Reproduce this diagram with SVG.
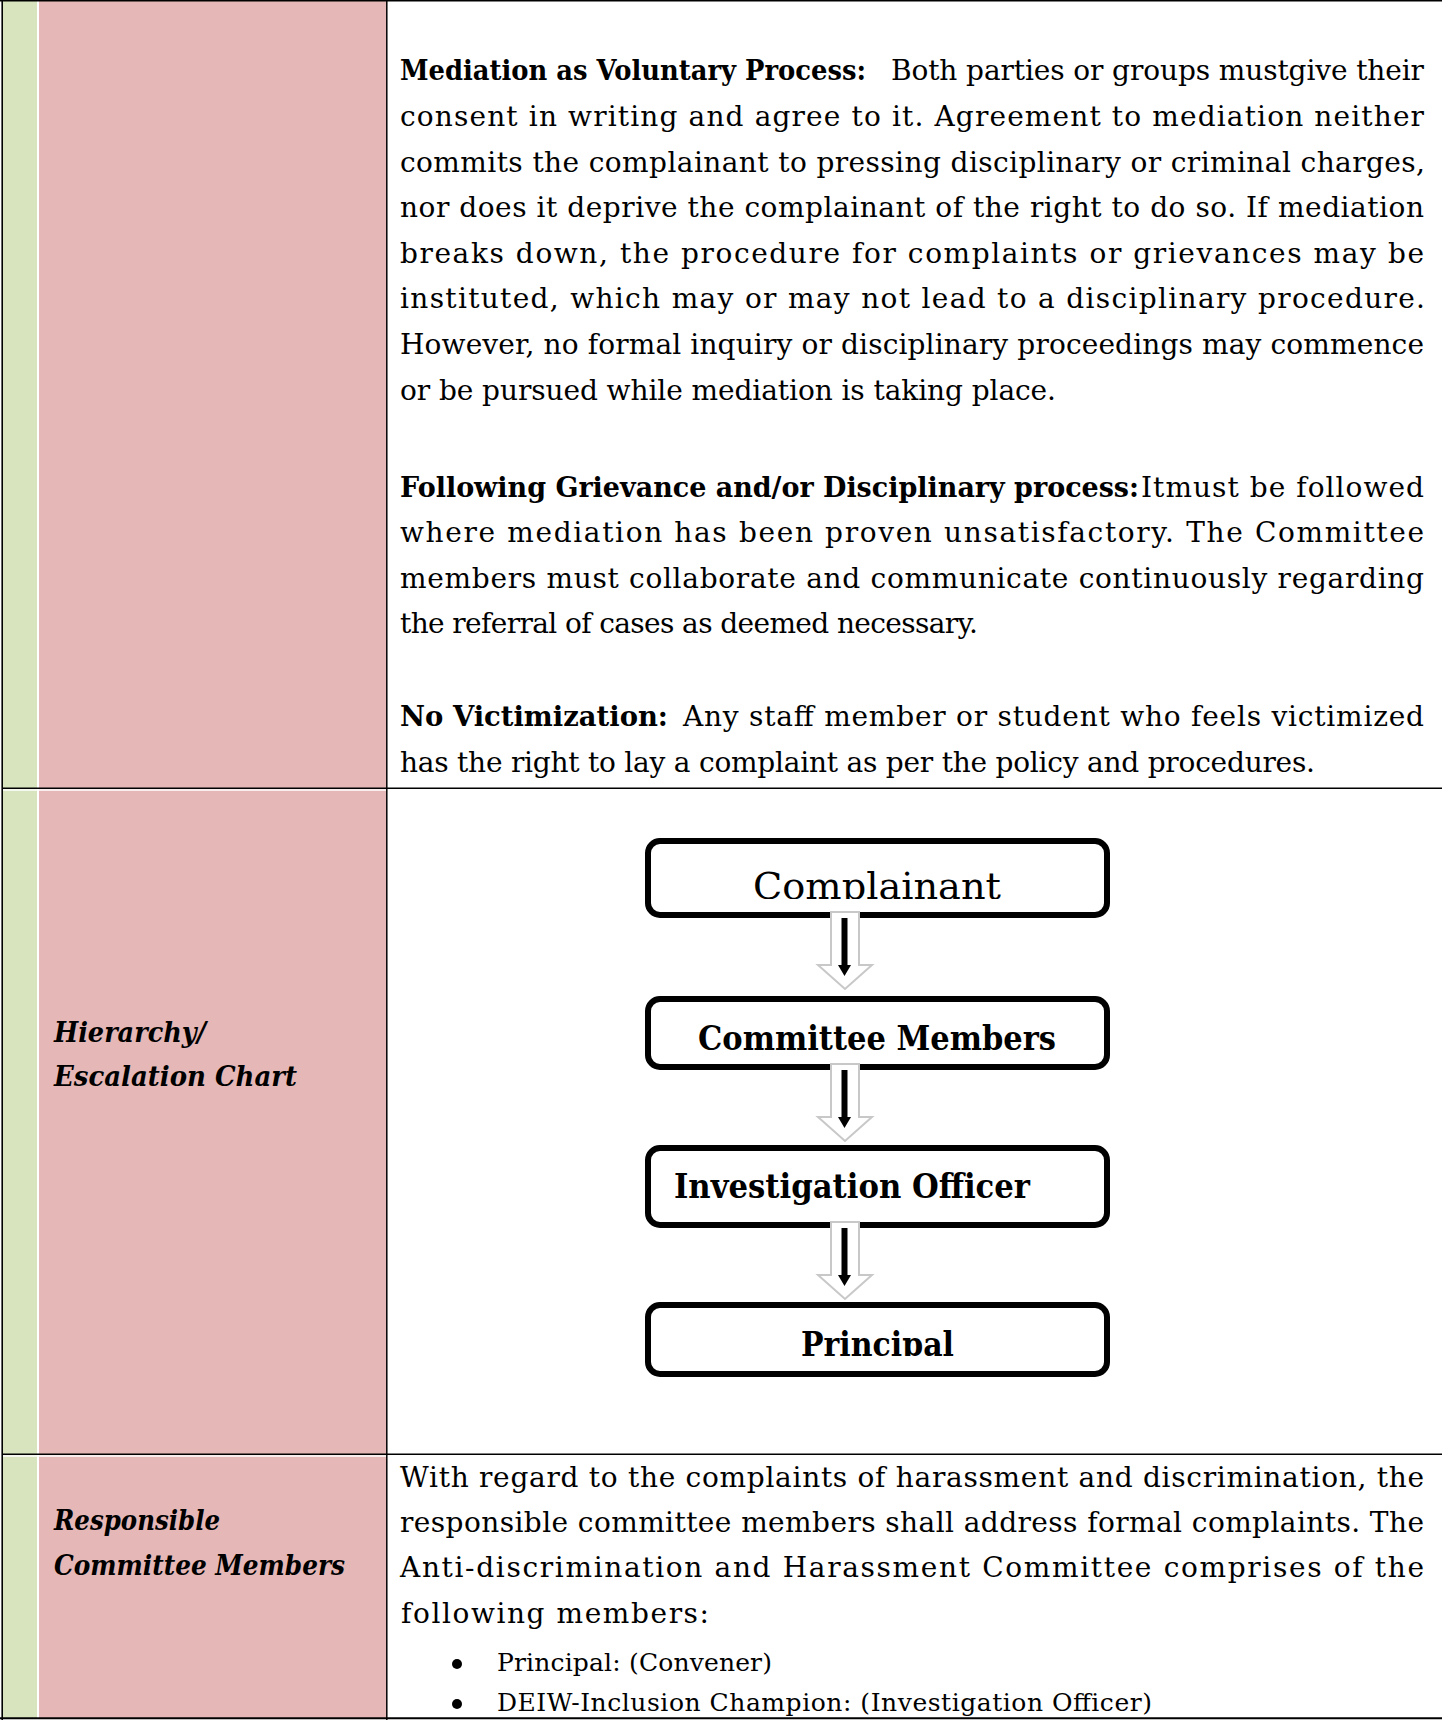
<svg xmlns="http://www.w3.org/2000/svg" width="1442" height="1721" viewBox="0 0 1442 1721">
<style>
.t{font-family:"DejaVu Serif","Liberation Serif",serif;font-size:28px;fill:#000}
.bl{font-size:25px}
.bd{font-weight:bold}
.lb{font-family:"DejaVu Serif","Liberation Serif",serif;font-size:27px;font-weight:bold;font-style:italic;fill:#000}
.nt{font-family:"DejaVu Serif","Liberation Serif",serif;fill:#000;text-anchor:middle}
.box{fill:#fff;stroke:#000;stroke-width:6}
.ln{stroke:#000;fill:none}
.blk{fill:#fff;stroke:#c8c8c8;stroke-width:2}
</style>
<defs>
<clipPath id="clipC"><rect x="650" y="843" width="455" height="56"/></clipPath>
<clipPath id="clipP"><rect x="650" y="1307" width="455" height="49"/></clipPath>
<g id="arrow">
<path class="blk" d="M-14,0 L14,0 L14,53 L27,53 L0,77 L-27,53 L-14,53 Z"/>
<line x1="-0.5" y1="6" x2="-0.5" y2="56" stroke="#000" stroke-width="6"/>
<polygon points="-7,53 6,53 -0.5,64" fill="#000"/>
</g>
</defs>
<rect x="0" y="0" width="1442" height="1721" fill="#fff"/>
<g id="table">
<rect x="3" y="1" width="34" height="1717" fill="#D7E4BD"/>
<rect x="39" y="1" width="347" height="1717" fill="#E5B8B7"/>
<line x1="3" y1="790" x2="386" y2="790" stroke="#fff" stroke-width="1.4"/>
<line x1="3" y1="1456" x2="386" y2="1456" stroke="#fff" stroke-width="1.4"/>
<line class="ln" x1="2.2" y1="0" x2="2.2" y2="1720" stroke-width="1.6"/>
<line class="ln" x1="386.8" y1="0" x2="386.8" y2="1720" stroke-width="1.5"/>
<line class="ln" x1="0" y1="0.8" x2="1442" y2="0.8" stroke-width="1.6"/>
<line class="ln" x1="2" y1="788.2" x2="1442" y2="788.2" stroke-width="1.6"/>
<line class="ln" x1="2" y1="1454.2" x2="1442" y2="1454.2" stroke-width="1.6"/>
<line class="ln" x1="0" y1="1718.2" x2="1442" y2="1718.2" stroke-width="2"/>
</g>
<g id="cell-mediation">
<text class="t bd" x="400" y="80" textLength="466" lengthAdjust="spacingAndGlyphs">Mediation as Voluntary Process:</text>
<text class="t" x="891" y="80" textLength="533" lengthAdjust="spacing">Both parties or groups mustgive their</text>
<text class="t" x="400" y="126" textLength="1024" lengthAdjust="spacing">consent in writing and agree to it. Agreement to mediation neither</text>
<text class="t" x="400" y="171.6" textLength="1025" lengthAdjust="spacing">commits the complainant to pressing disciplinary or criminal charges,</text>
<text class="t" x="400" y="217.2" textLength="1024" lengthAdjust="spacing">nor does it deprive the complainant of the right to do so. If mediation</text>
<text class="t" x="400" y="262.8" textLength="1024" lengthAdjust="spacing">breaks down, the procedure for complaints or grievances may be</text>
<text class="t" x="400" y="308.4" textLength="1025" lengthAdjust="spacing">instituted, which may or may not lead to a disciplinary procedure.</text>
<text class="t" x="400" y="354" textLength="1024" lengthAdjust="spacing">However, no formal inquiry or disciplinary proceedings may commence</text>
<text class="t" x="400" y="399.6" textLength="656" lengthAdjust="spacing">or be pursued while mediation is taking place.</text>
</g>
<g id="cell-grievance">
<text class="t bd" x="400" y="497" textLength="739" lengthAdjust="spacingAndGlyphs">Following Grievance and/or Disciplinary process:</text>
<text class="t" x="1141" y="497" textLength="283" lengthAdjust="spacing">Itmust be followed</text>
<text class="t" x="400" y="542" textLength="1024" lengthAdjust="spacing">where mediation has been proven unsatisfactory. The Committee</text>
<text class="t" x="400" y="588" textLength="1024" lengthAdjust="spacing">members must collaborate and communicate continuously regarding</text>
<text class="t" x="400" y="633" textLength="578" lengthAdjust="spacing">the referral of cases as deemed necessary.</text>
</g>
<g id="cell-victimization">
<text class="t bd" x="400" y="726" textLength="268" lengthAdjust="spacingAndGlyphs">No Victimization:</text>
<text class="t" x="683" y="726" textLength="741" lengthAdjust="spacing">Any staff member or student who feels victimized</text>
<text class="t" x="400" y="772" textLength="915" lengthAdjust="spacing">has the right to lay a complaint as per the policy and procedures.</text>
</g>
<g id="label-hierarchy">
<text class="lb" x="54" y="1042" textLength="152" lengthAdjust="spacingAndGlyphs">Hierarchy/</text>
<text class="lb" x="54" y="1086" textLength="243" lengthAdjust="spacingAndGlyphs">Escalation Chart</text>
</g>
<g id="node-complainant">
<rect class="box" x="648" y="841" width="459" height="74" rx="12"/>
<text class="nt" x="877" y="899" font-size="38" textLength="248" lengthAdjust="spacingAndGlyphs" clip-path="url(#clipC)">Complainant</text>
</g>
<g id="node-committee">
<rect class="box" x="648" y="999" width="459" height="68" rx="12"/>
<text class="nt" x="877" y="1050" font-size="33" font-weight="bold" textLength="358" lengthAdjust="spacingAndGlyphs">Committee Members</text>
</g>
<g id="node-investigation">
<rect class="box" x="648" y="1148" width="459" height="77" rx="12"/>
<text class="nt" x="852" y="1198" font-size="33" font-weight="bold" textLength="356" lengthAdjust="spacingAndGlyphs">Investigation Officer</text>
</g>
<g id="node-principal">
<rect class="box" x="648" y="1305" width="459" height="69" rx="12"/>
<text class="nt" x="877.5" y="1356" font-size="34" font-weight="bold" textLength="153" lengthAdjust="spacingAndGlyphs" clip-path="url(#clipP)">Principal</text>
</g>
<g id="connectors">
<use href="#arrow" transform="translate(845,912)"/>
<use href="#arrow" transform="translate(845,1064)"/>
<use href="#arrow" transform="translate(845,1222)"/>
</g>
<g id="label-responsible">
<text class="lb" x="54" y="1530" textLength="166" lengthAdjust="spacingAndGlyphs">Responsible</text>
<text class="lb" x="54" y="1575" textLength="291" lengthAdjust="spacingAndGlyphs">Committee Members</text>
</g>
<g id="cell-members">
<text class="t" x="400" y="1487" textLength="1024" lengthAdjust="spacing">With regard to the complaints of harassment and discrimination, the</text>
<text class="t" x="400" y="1532" textLength="1024" lengthAdjust="spacing">responsible committee members shall address formal complaints. The</text>
<text class="t" x="400" y="1577" textLength="1024" lengthAdjust="spacing">Anti-discrimination and Harassment Committee comprises of the</text>
<text class="t" x="401" y="1623" textLength="308" lengthAdjust="spacing">following members:</text>
<circle cx="457" cy="1664" r="5"/>
<text class="t bl" x="497" y="1671" textLength="275" lengthAdjust="spacing">Principal: (Convener)</text>
<circle cx="457" cy="1704" r="5"/>
<text class="t bl" x="497" y="1711" textLength="655" lengthAdjust="spacing">DEIW-Inclusion Champion: (Investigation Officer)</text>
</g>
</svg>
